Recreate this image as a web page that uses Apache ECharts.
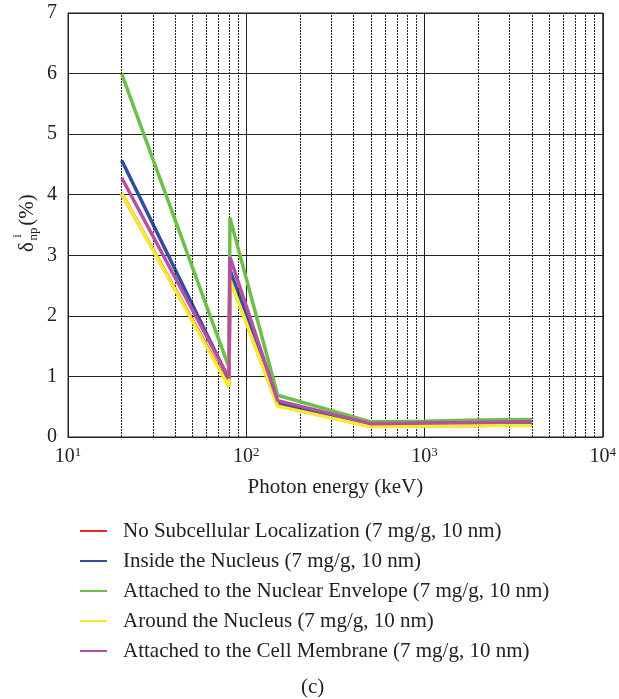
<!DOCTYPE html>
<html>
<head>
<meta charset="utf-8">
<script src="https://cdn.jsdelivr.net/npm/echarts@6/dist/echarts.min.js"></script>
<style>
  html, body { margin: 0; padding: 0; background: #fff; }
  #chart { width: 619px; height: 699px; }
</style>
</head>
<body>
<div id="chart"></div>
<script>
// photon energies (keV) where the curves were sampled
const energies = [20, 80, 81, 150, 500, 1000, 2000, 4000];

const noLocalization = [4.02, 0.85, 2.62, 0.52, 0.18, 0.19, 0.19, 0.21];
const insideNucleus = [4.57, 0.95, 2.76, 0.57, 0.21, 0.22, 0.23, 0.24];
const nuclearEnvelope = [6.0, 1.15, 3.62, 0.69, 0.25, 0.26, 0.28, 0.29];
const aroundNucleus = [4.02, 0.83, 2.6, 0.51, 0.17, 0.18, 0.19, 0.19];
const cellMembrane = [4.28, 0.97, 2.97, 0.6, 0.22, 0.23, 0.24, 0.25];

const seriesNames = [
  'No Subcellular Localization (7 mg/g, 10 nm)',
  'Inside the Nucleus (7 mg/g, 10 nm)',
  'Attached to the Nuclear Envelope (7 mg/g, 10 nm)',
  'Around the Nucleus (7 mg/g, 10 nm)',
  'Attached to the Cell Membrane (7 mg/g, 10 nm)'
];
const seriesData = [noLocalization, insideNucleus, nuclearEnvelope, aroundNucleus, cellMembrane];
const colors = ['#ee2a24', '#2f4ea2', '#6cc04a', '#f7ec2c', '#b64ea4'];

// dotted minor grid lines of the log axis
const minorGrid = [20, 30, 40, 50, 60, 70, 80, 90, 200, 300, 400, 500, 600, 700, 800, 900,
  2000, 3000, 4000, 5000, 6000, 7000, 8000, 9000];

const serif = 'Liberation Serif, serif';
const chart = echarts.init(document.getElementById('chart'));

const lines = seriesNames.map((name, i) => ({
  name: name,
  type: 'line',
  data: energies.map((e, j) => [e, seriesData[i][j]]),
  showSymbol: false,
  lineStyle: { color: colors[i], width: 3.5 },
  itemStyle: { color: colors[i] },
  z: 3 + i,
  animation: false
}));

lines.unshift({
  name: 'grid',
  type: 'line',
  data: [],
  silent: true,
  animation: false,
  markLine: {
    silent: true,
    symbol: 'none',
    label: { show: false },
    lineStyle: { color: '#222', type: [2, 1], width: 1 },
    data: minorGrid.map(v => ({ xAxis: v }))
  }
});

chart.setOption({
  animation: false,
  grid: { left: 68, right: 12, top: 13, bottom: 262, show: true, borderColor: '#222', borderWidth: 1 },
  xAxis: {
    type: 'log',
    logBase: 10,
    min: 10,
    max: 10000,
    axisLine: { show: true, lineStyle: { color: '#222' } },
    axisTick: { show: false },
    splitLine: { show: true, lineStyle: { color: '#222', width: 1 } },
    axisLabel: {
      margin: 9,
      color: '#222',
      fontFamily: serif,
      fontSize: 20,
      formatter: v => '10{sup|' + Math.round(Math.log10(v)) + '}',
      rich: { sup: { fontFamily: serif, fontSize: 13, verticalAlign: 'top', padding: [0, 0, 9, 0], color: '#222' } }
    },
    name: 'Photon energy (keV)',
    nameLocation: 'middle',
    nameGap: 40,
    nameTextStyle: { fontFamily: serif, fontSize: 21, color: '#222' }
  },
  yAxis: {
    type: 'value',
    min: 0,
    max: 7,
    interval: 1,
    axisLine: { show: true, lineStyle: { color: '#222' } },
    axisTick: { show: false },
    splitLine: { show: true, lineStyle: { color: '#222', width: 1 } },
    axisLabel: { margin: 11, color: '#222', fontFamily: serif, fontSize: 20 }
  },
  legend: {
    orient: 'vertical',
    left: 75,
    top: 515,
    itemWidth: 27,
    itemHeight: 2,
    itemGap: 8,
    icon: 'rect',
    data: seriesNames,
    textStyle: { fontFamily: serif, fontSize: 21, color: '#222', lineHeight: 22, padding: [0, 0, 0, 11] }
  },
  graphic: [
    {
      type: 'group',
      x: 27,
      y: 225,
      rotation: Math.PI / 2,
      children: [
        { type: 'text', x: -22, y: 0, style: { text: 'δ', font: '21px ' + serif, fill: '#222', textAlign: 'center', textVerticalAlign: 'middle' } },
        { type: 'text', x: -11, y: -9, style: { text: 'i', font: '13px ' + serif, fill: '#222', textAlign: 'center', textVerticalAlign: 'middle' } },
        { type: 'text', x: -9, y: 7, style: { text: 'np', font: '13px ' + serif, fill: '#222', textAlign: 'center', textVerticalAlign: 'middle' } },
        { type: 'text', x: 15, y: 0, style: { text: '(%)', font: '21px ' + serif, fill: '#222', textAlign: 'center', textVerticalAlign: 'middle' } }
      ]
    },
    {
      type: 'text',
      left: 301,
      top: 677,
      style: { text: '(c)', font: '21px ' + serif, fill: '#222' }
    }
  ],
  series: lines
});
</script>
</body>
</html>
